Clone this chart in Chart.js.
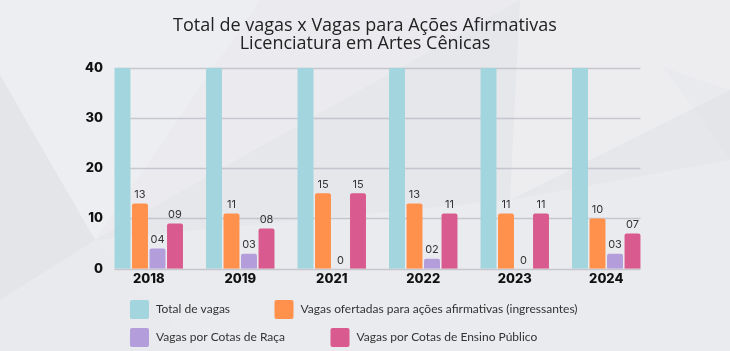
<!DOCTYPE html>
<html>
<head>
<meta charset="utf-8">
<script src="https://cdn.jsdelivr.net/npm/chart.js@4.4.1/dist/chart.umd.min.js"></script>
<style>
  html, body { margin: 0; padding: 0; background: #e7e8ec; }
  #wrap { width: 730px; height: 351px; position: relative; }
  canvas { display: block; }
</style>
</head>
<body>
<div id="wrap"><canvas id="c" width="730" height="351"></canvas></div>
<script>
const categories = ['2018', '2019', '2021', '2022', '2023', '2024'];
const seriesNames = [
  'Total de vagas',
  'Vagas ofertadas para ações afirmativas (ingressantes)',
  'Vagas por Cotas de Raça',
  'Vagas por Cotas de Ensino Público'
];
const totalVagas = [40, 40, 40, 40, 40, 40];
const vagasAcoesAfirmativas = [13, 11, 15, 13, 11, 10];
const vagasCotasRaca = [4, 3, 0, 2, 0, 3];
const vagasCotasEnsinoPublico = [9, 8, 15, 11, 11, 7];
const yTicks = [0, 10, 20, 30, 40];
const titleLines = ['Total de vagas x Vagas para Ações Afirmativas', 'Licenciatura em Artes Cênicas'];

const colors = ['#a2d5dd', '#ff914d', '#b39ddb', '#d95a8e'];
const seriesData = [totalVagas, vagasAcoesAfirmativas, vagasCotasRaca, vagasCotasEnsinoPublico];

function fmt(v) { return (v > 0 && v < 10) ? '0' + v : String(v); }

const bgPlugin = {
  id: 'bg',
  beforeDraw(chart) {
    const ctx = chart.ctx;
    const W = chart.width, H = chart.height;
    ctx.save();
    ctx.fillStyle = '#e6e7eb';
    ctx.fillRect(0, 0, W, H);
    const polys = [
      {c: 'rgba(255,255,255,0.30)', p: [[0,0],[260,0],[95,240],[0,75]]},
      {c: 'rgba(255,255,255,0.20)', p: [[260,0],[520,0],[95,240]]},
      {c: 'rgba(255,255,255,0.28)', p: [[520,0],[730,0],[730,90],[510,200]]},
      {c: 'rgba(210,212,220,0.12)', p: [[0,75],[95,240],[0,300]]},
      {c: 'rgba(255,255,255,0.18)', p: [[95,240],[510,200],[730,160],[730,351],[200,351]]},
      {c: 'rgba(210,212,220,0.10)', p: [[663,67],[730,90],[730,160]]},
      {c: 'rgba(255,255,255,0.14)', p: [[0,300],[95,240],[200,351],[0,351]]}
    ];
    polys.forEach(o => {
      ctx.beginPath();
      o.p.forEach((pt, i) => i ? ctx.lineTo(pt[0], pt[1]) : ctx.moveTo(pt[0], pt[1]));
      ctx.closePath();
      ctx.fillStyle = o.c;
      ctx.fill();
    });
    ctx.restore();
  }
};

const gridPlugin = {
  id: 'customGrid',
  beforeDatasetsDraw(chart) {
    const ctx = chart.ctx;
    const y = chart.scales.y;
    const first = chart.getDatasetMeta(0).data[0];
    const last = chart.getDatasetMeta(3).data[categories.length - 1];
    const x0 = first.x - first.width / 2;
    const x1 = last.x + last.width / 2;
    ctx.save();
    ctx.strokeStyle = 'rgba(185,187,195,0.75)';
    ctx.lineWidth = 1.5;
    yTicks.forEach(t => {
      const py = Math.round(y.getPixelForValue(t)) + 0.5;
      ctx.beginPath();
      ctx.moveTo(x0, py);
      ctx.lineTo(x1, py);
      ctx.stroke();
    });
    ctx.restore();
  }
};

const labelPlugin = {
  id: 'valueLabels',
  afterDatasetsDraw(chart) {
    const ctx = chart.ctx;
    ctx.save();
    ctx.font = '400 11px Inter, "Open Sans", sans-serif';
    ctx.fillStyle = '#333333';
    ctx.textAlign = 'center';
    ctx.textBaseline = 'bottom';
    for (let d = 1; d < 4; d++) {
      const meta = chart.getDatasetMeta(d);
      meta.data.forEach((bar, i) => {
        ctx.fillText(fmt(seriesData[d][i]), bar.x, bar.y - 3);
      });
    }
    ctx.restore();
  }
};

const legendPlugin = {
  id: 'customLegend',
  afterDraw(chart) {
    const ctx = chart.ctx;
    const items = [
      {i: 0, x: 130, y: 300},
      {i: 1, x: 274.5, y: 300},
      {i: 2, x: 130, y: 328},
      {i: 3, x: 330.5, y: 328}
    ];
    ctx.save();
    ctx.font = '400 12px Lato, "Open Sans", sans-serif';
    ctx.textBaseline = 'middle';
    ctx.textAlign = 'left';
    items.forEach(it => {
      ctx.fillStyle = colors[it.i];
      ctx.beginPath();
      if (ctx.roundRect) ctx.roundRect(it.x, it.y, 19, 19, 2); else ctx.rect(it.x, it.y, 19, 19);
      ctx.fill();
      ctx.fillStyle = '#333333';
      ctx.fillText(seriesNames[it.i], it.x + 26, it.y + 9.5);
    });
    ctx.restore();
  }
};

new Chart(document.getElementById('c'), {
  type: 'bar',
  data: {
    labels: categories,
    datasets: seriesData.map((d, i) => ({
      label: seriesNames[i],
      data: d,
      backgroundColor: colors[i],
      borderRadius: 2,
      borderSkipped: 'bottom',
      categoryPercentage: 0.765,
      barPercentage: 0.91
    }))
  },
  options: {
    responsive: false,
    animation: false,
    layout: { padding: { left: 0, right: 0, top: 0, bottom: 63.7 } },
    plugins: {
      legend: { display: false },
      tooltip: { enabled: false },
      title: {
        display: true,
        text: titleLines,
        color: '#222222',
        font: { family: '"Open Sans", sans-serif', size: 18, weight: '400', lineHeight: 0.98 },
        padding: { top: 17, bottom: 15.5 }
      }
    },
    scales: {
      x: {
        grid: { display: false, drawTicks: false },
        border: { display: false },
        ticks: {
          color: '#111111',
          padding: 3,
          font: { family: 'Inter, Roboto, sans-serif', size: 13, weight: '800', lineHeight: 1.2 }
        },
        afterFit(s) { s.height = 18.6; }
      },
      y: {
        min: 0,
        max: 40,
        afterBuildTicks(s) { s.ticks = yTicks.map(v => ({ value: v })); },
        grid: { display: false, drawTicks: false },
        border: { display: false },
        ticks: {
          color: '#111111',
          padding: 0,
          font: { family: 'Inter, Roboto, sans-serif', size: 13, weight: '800' }
        },
        afterFit(s) { s.width = 103; }
      },
      yRight: {
        position: 'right',
        display: true,
        grid: { display: false, drawTicks: false },
        border: { display: false },
        ticks: { display: false },
        afterFit(s) { s.width = 78; }
      }
    }
  },
  plugins: [bgPlugin, gridPlugin, labelPlugin, legendPlugin]
});
</script>
</body>
</html>
